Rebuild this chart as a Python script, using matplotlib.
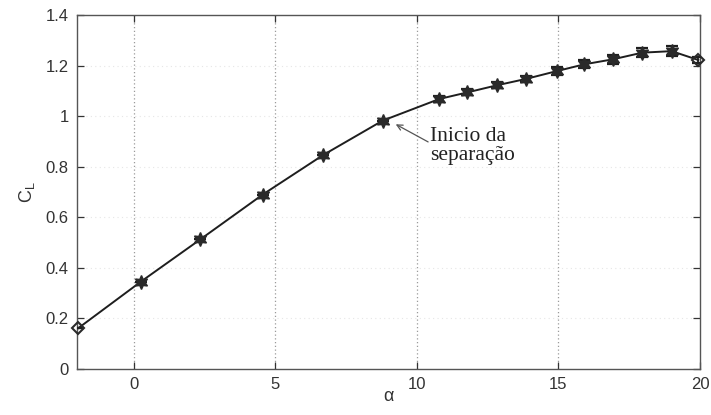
import matplotlib
matplotlib.use("Agg")
import matplotlib.pyplot as plt
import numpy as np

alpha = [-1.95, 0.25, 2.36, 4.56, 6.69, 8.79, 10.80, 11.79, 12.83, 13.85, 14.94, 15.92, 16.94, 17.96, 19.0, 19.94]
cl = [0.162, 0.345, 0.513, 0.690, 0.846, 0.982, 1.068, 1.094, 1.122, 1.147, 1.178, 1.205, 1.225, 1.251, 1.257, 1.222]
err = [0.0, 0.0, 0.0, 0.0, 0.0, 0.0, 0.012, 0.012, 0.012, 0.013, 0.015, 0.016, 0.017, 0.019, 0.019, 0.012]

xticks = [0, 5, 10, 15, 20]
yticks = [0, 0.2, 0.4, 0.6, 0.8, 1.0, 1.2, 1.4]
ytick_labels = ["0", "0.2", "0.4", "0.6", "0.8", "1", "1.2", "1.4"]

plt.rcParams['font.family'] = ['Liberation Sans', 'DejaVu Sans']
plt.rcParams['mathtext.fontset'] = 'custom'
plt.rcParams['mathtext.rm'] = 'Liberation Sans'

fig = plt.figure(figsize=(7.11, 4.15), dpi=100)
ax = fig.add_axes([0.1083, 0.1108, 0.8762, 0.8531])

tc = '#333333'
lc = '#1e1e1e'

ax.errorbar(alpha, cl, yerr=err, fmt='none', ecolor=lc, elinewidth=1.3, capsize=4.5, capthick=1.6, zorder=3)
ax.plot(alpha, cl, '-', color=lc, lw=1.4, zorder=3, clip_on=False)
ax.plot(alpha[1:-1], cl[1:-1], linestyle='none', marker=(6, 1, 0), markersize=10,
        color='#2a2a2a', markeredgecolor='#2a2a2a', zorder=4)
ax.plot([alpha[0], alpha[-1]], [cl[0], cl[-1]], linestyle='none', marker='D', markersize=6,
        markerfacecolor='none', markeredgecolor='#2a2a2a', markeredgewidth=1.5, zorder=4,
        clip_on=False)

ax.set_xlim(-2, 20)
ax.set_ylim(0, 1.4)
ax.set_xticks(xticks)
ax.set_xticklabels([str(t) for t in xticks])
ax.set_yticks(yticks)
ax.set_yticklabels(ytick_labels)

for x in xticks[:-1]:
    ax.axvline(x, color='#9a9a9a', lw=0.9, ls=(0, (1, 2)), zorder=1)
for y in yticks[1:-1]:
    ax.axhline(y, color='#e6e6e6', lw=0.8, ls=(0, (1, 3)), zorder=1)

ax.tick_params(direction='in', length=5, width=0.9, colors=tc, labelsize=12,
               top=True, right=True, pad=6)
for s in ax.spines.values():
    s.set_color('#555555')
    s.set_linewidth(1.0)

ax.set_xlabel('α', fontsize=13, color=tc, labelpad=-3)
ax.set_ylabel(r'C$_{\mathrm{L}}$', fontsize=13, color=tc, labelpad=6)

ax.text(10.48, 0.882, 'Inicio da\nseparação', fontsize=15.5,
        family=['Liberation Serif', 'DejaVu Serif'], color='#222222',
        ha='left', va='center', linespacing=1.05)
ax.annotate('', xy=(9.17, 0.973), xytext=(10.4, 0.898),
            arrowprops=dict(arrowstyle='->', color='#555555', lw=0.9, shrinkA=0, shrinkB=2))

fig.savefig('out.png', dpi=100)
